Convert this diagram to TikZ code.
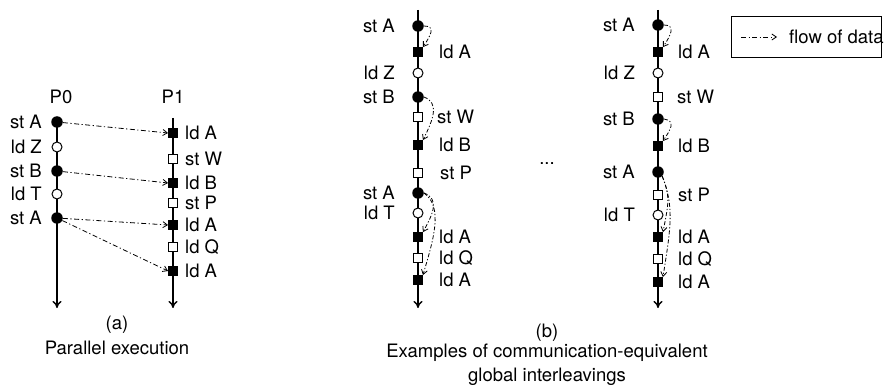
\documentclass[tikz,border=0pt]{standalone}
\usepackage{fontspec}
\setmainfont{TeX Gyre Heros}
\usetikzlibrary{arrows.meta,calc}
\begin{document}
\begin{tikzpicture}[x=1pt,y=-1pt,
  every node/.style={font=\fontsize{18.5}{22}\selectfont},
  proc/.style={line width=1.4pt,-{To[length=7pt,width=9pt]}},
  fc/.style={circle,fill=black,inner sep=0pt,minimum size=11.5pt},
  oc/.style={circle,draw=black,fill=white,line width=1pt,inner sep=0pt,minimum size=10pt},
  fs/.style={rectangle,fill=black,inner sep=0pt,minimum size=9.5pt},
  os/.style={rectangle,draw=black,fill=white,line width=1pt,inner sep=0pt,minimum size=9pt},
  lab/.style={inner sep=0pt},
  flow/.style={line width=0.8pt,dash pattern=on 5pt off 2.5pt on 1.2pt off 2.5pt,
    -{Straight Barb[length=4.5pt,width=6pt]}},
  cflow/.style={line width=0.8pt,dash pattern=on 4pt off 2pt on 1.2pt off 2pt,
    -{Straight Barb[length=4.5pt,width=6pt]}}]
\useasboundingbox (0,0) rectangle (884,385);

% ---------- panel (a) ----------
\coordinate (p0s) at (57,122); \coordinate (p0e) at (57,308);
\coordinate (p1s) at (173,118); \coordinate (p1e) at (173,308);
\draw[proc] (p0s) -- (p0e);
\draw[proc] (p1s) -- (p1e);
\node[lab] (P0) at (61,97) {P0};
\node[lab] (P1) at (173,97) {P1};

\node[fc] (a1) at (57,122) {};
\node[oc] (a2) at (57,147) {};
\node[fc] (a3) at (57,171) {};
\node[oc] (a4) at (57,194) {};
\node[fc] (a5) at (57,218) {};
\node[lab,anchor=east] (a1l) at (42,122) {st A};
\node[lab,anchor=east] (a2l) at (42,147) {ld Z};
\node[lab,anchor=east] (a3l) at (42,171) {st B};
\node[lab,anchor=east] (a4l) at (42,194) {ld T};
\node[lab,anchor=east] (a5l) at (42,218) {st A};

\node[fs] (b1) at (173,133) {};
\node[os] (b2) at (173,159) {};
\node[fs] (b3) at (173,183) {};
\node[os] (b4) at (173,203) {};
\node[fs] (b5) at (173,225) {};
\node[os] (b6) at (173,247) {};
\node[fs] (b7) at (173,271) {};
\node[lab,anchor=west] (b1l) at (185,133) {ld A};
\node[lab,anchor=west] (b2l) at (185,159) {st W};
\node[lab,anchor=west] (b3l) at (185,183) {ld B};
\node[lab,anchor=west] (b4l) at (185,203) {st P};
\node[lab,anchor=west] (b5l) at (185,225) {ld A};
\node[lab,anchor=west] (b6l) at (185,247) {ld Q};
\node[lab,anchor=west] (b7l) at (185,271) {ld A};

\draw[flow] (a1) -- (b1.west);
\draw[flow] (a3) -- (b3.west);
\draw[flow] (a5) -- (b5.west);
\draw[flow] (a5) -- (b7.west);

\node[lab] (capa1) at (117,325) {(a)};
\node[lab] (capa2) at (117,348) {Parallel execution};

% ---------- panel (b), first interleaving ----------
\coordinate (c0s) at (418,10); \coordinate (c0e) at (418,308);
\draw[proc] (c0s) -- (c0e);
\node[fc] (c1) at (418,26) {};
\node[fs] (c2) at (418,52) {};
\node[oc] (c3) at (418,73) {};
\node[fc] (c4) at (418,97) {};
\node[os] (c5) at (418,117) {};
\node[fs] (c6) at (418,145) {};
\node[os] (c7) at (418,173) {};
\node[fc] (c8) at (418,193) {};
\node[oc] (c9) at (418,213) {};
\node[fs] (c10) at (418,237) {};
\node[os] (c11) at (418,258) {};
\node[fs] (c12) at (418,280) {};
\node[lab,anchor=east] (c1l) at (395,26) {st A};
\node[lab,anchor=west] (c2l) at (439,52) {ld A};
\node[lab,anchor=east] (c3l) at (395,73) {ld Z};
\node[lab,anchor=east] (c4l) at (395,97) {st B};
\node[lab,anchor=west] (c5l) at (437,117) {st W};
\node[lab,anchor=west] (c6l) at (439,145) {ld B};
\node[lab,anchor=west] (c7l) at (440,173) {st P};
\node[lab,anchor=east] (c8l) at (395,193) {st A};
\node[lab,anchor=east] (c9l) at (395,213) {ld T};
\node[lab,anchor=west] (c10l) at (439,237) {ld A};
\node[lab,anchor=west] (c11l) at (439,258) {ld Q};
\node[lab,anchor=west] (c12l) at (439,280) {ld A};

\draw[cflow] (c1.east) .. controls +(12,0) and +(8,-12) .. (c2.north east);
\draw[cflow] (c4.east) .. controls +(16,6) and +(10,-20) .. (c6.north east);
\draw[cflow] (c8.east) .. controls +(16,6) and +(10,-18) .. (c10.north east);
\draw[cflow] (c8.east) .. controls +(20,14) and +(10,-34) .. (c12.north east);

% ---------- panel (b), second interleaving ----------
\coordinate (d0s) at (658,10); \coordinate (d0e) at (658,308);
\draw[proc] (d0s) -- (d0e);
\node[fc] (d1) at (658,25) {};
\node[fs] (d2) at (658,52) {};
\node[oc] (d3) at (658,73) {};
\node[os] (d4) at (658,97) {};
\node[fc] (d5) at (658,119) {};
\node[fs] (d6) at (658,146) {};
\node[fc] (d7) at (658,172) {};
\node[os] (d8) at (658,195) {};
\node[oc] (d9) at (658,215) {};
\node[fs] (d10) at (658,237) {};
\node[os] (d11) at (658,259) {};
\node[fs] (d12) at (658,282) {};
\node[lab,anchor=east] (d1l) at (635,25) {st A};
\node[lab,anchor=west] (d2l) at (678,52) {ld A};
\node[lab,anchor=east] (d3l) at (635,73) {ld Z};
\node[lab,anchor=west] (d4l) at (677,97) {st W};
\node[lab,anchor=east] (d5l) at (635,119) {st B};
\node[lab,anchor=west] (d6l) at (678,146) {ld B};
\node[lab,anchor=east] (d7l) at (635,172) {st A};
\node[lab,anchor=west] (d8l) at (678,195) {st P};
\node[lab,anchor=east] (d9l) at (635,215) {ld T};
\node[lab,anchor=west] (d10l) at (678,237) {ld A};
\node[lab,anchor=west] (d11l) at (678,259) {ld Q};
\node[lab,anchor=west] (d12l) at (678,282) {ld A};

\draw[cflow] (d1.east) .. controls +(12,0) and +(8,-12) .. (d2.north east);
\draw[cflow] (d5.east) .. controls +(12,2) and +(8,-12) .. (d6.north east);
\draw[cflow] (d7.south east) .. controls +(8,20) and +(6,-30) .. (d10.north east);
\draw[cflow] (d7.south east) .. controls +(12,30) and +(8,-50) .. (d12.north east);

\node[lab] (dots) at (547,164) {...};

\node[lab] (capb1) at (547,333) {(b)};
\node[lab] (capb2) at (547,353) {Examples of communication-equivalent};
\node[lab] (capb3) at (547,377) {global interleavings};

% ---------- legend ----------
\node[draw=black,line width=0.8pt,minimum width=150pt,minimum height=41pt,inner sep=0pt] (legend) at (806.5,36.5) {};
\coordinate (lgs) at (741,37); \coordinate (lge) at (777,37);
\draw[flow] (lgs) -- (lge);
\node[lab,anchor=west] (lgt) at (789,37) {flow of data};
\end{tikzpicture}
\end{document}
